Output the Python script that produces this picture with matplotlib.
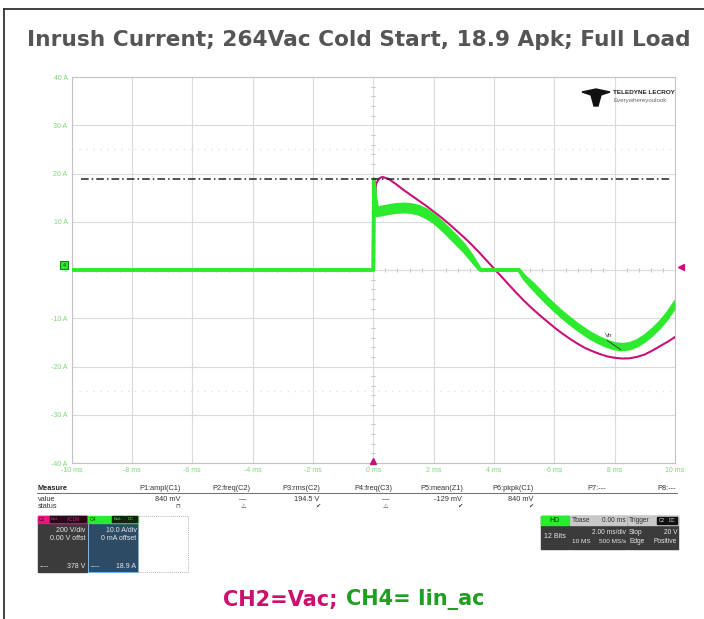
import numpy as np
import matplotlib.pyplot as plt
from matplotlib.patches import Rectangle, Polygon
from matplotlib.lines import Line2D

# scope capture values (time in ms, current in A, voltage in V)
t_iin = [-10, -0.02, 0.0, 0.02, 0.06, 0.13, 0.25, 0.5, 0.75, 1.0, 1.25, 1.5, 1.75,
         2.0, 2.25, 2.5, 2.75, 3.0, 3.25, 3.5, 3.56, 4.0, 4.5, 4.83,
         5.0, 5.25, 5.5, 5.75, 6.0, 6.25, 6.5, 6.75, 7.0, 7.25, 7.5, 7.75,
         8.0, 8.25, 8.5, 8.75, 9.0, 9.25, 9.5, 9.75, 10.0]
iin = [0, 0, 0, 18.8, 15.0, 12.0, 12.2, 12.5, 12.75, 12.85, 12.75, 12.4, 11.7,
       10.7, 9.3, 7.8, 6.2, 4.6, 2.6, 0.4, 0, 0, 0, 0,
       -1.5, -3.1, -4.7, -6.3, -7.8, -9.2, -10.5, -11.7, -12.8, -13.8, -14.6, -15.3,
       -15.8, -16.0, -15.8, -15.2, -14.2, -12.9, -11.4, -9.5, -7.2]
iin_ripple = [0, 0, 0, 0, 0.6, 1.4, 1.5, 1.5, 1.5, 1.5, 1.5, 1.5, 1.5,
              1.5, 1.4, 1.4, 1.4, 1.3, 1.0, 0.3, 0, 0, 0, 0,
              0.5, 0.9, 1.0, 1.0, 1.0, 1.0, 1.0, 1.0, 1.0, 1.0, 1.0, 1.0,
              1.0, 1.0, 1.0, 1.0, 1.0, 1.0, 1.0, 1.0, 1.0]

t_vac = [-10, 0, 0.03, 0.1, 0.2, 0.3, 0.5, 0.75, 1.0, 1.25, 1.5, 1.75, 2.0, 2.25,
         2.5, 2.75, 3.0, 3.25, 3.5, 3.75, 4.0, 4.25, 4.5, 4.75, 5.0, 5.25, 5.5,
         5.75, 6.0, 6.25, 6.5, 6.75, 7.0, 7.25, 7.5, 7.75, 8.0, 8.25, 8.5, 8.75,
         9.0, 9.25, 9.5, 9.75, 10.0]
vac = [0, 0, 280, 360, 380, 386, 378, 356, 332, 310, 288, 266, 242, 218,
       192, 164, 136, 106, 74, 40, 6, -28, -62, -96, -128, -158, -186,
       -212, -238, -262, -284, -304, -322, -336, -348, -358, -364, -367, -366, -360,
       -350, -334, -316, -298, -278]
v_per_div = 200
a_per_div = 10
ipk = 18.9

yticks = [40, 30, 20, 10, 0, -10, -20, -30, -40]
ytick_labels = ['40 A', '30 A', '20 A', '10 A', '0', '-10 A', '-20 A', '-30 A', '-40 A']
xticks = [-10, -8, -6, -4, -2, 0, 2, 4, 6, 8, 10]
xtick_labels = ['-10 ms', '-8 ms', '-6 ms', '-4 ms', '-2 ms', '0 ms', '2 ms', '4 ms', '6 ms', '8 ms', '10 ms']

meas_names = ['P1:ampl(C1)', 'P2:freq(C2)', 'P3:rms(C2)', 'P4:freq(C3)', 'P5:mean(Z1)',
              'P6:pkpk(C1)', 'P7:---', 'P8:---']
meas_values = ['840 mV', '\u2014', '194.5 V', '\u2014', '-129 mV', '840 mV', '', '']
meas_status = ['\u2293', '\u26a0', '\u2714', '\u26a0', '\u2714', '\u2714', '', '']

MAG = '#c8107a'
GRN = '#2eea2e'
W, H = 704, 619

fig = plt.figure(figsize=(W / 100, H / 100), dpi=100)
narrow = ['Liberation Sans Narrow', 'Liberation Sans', 'DejaVu Sans']


def ft(x, y, s, **kw):
    kw.setdefault('family', narrow)
    fig.text(x / W, 1 - y / H, s, **kw)


def box(x0, y0, x1, y1, **kw):
    fig.add_artist(Rectangle((x0 / W, 1 - y1 / H), (x1 - x0) / W, (y1 - y0) / H,
                             transform=fig.transFigure, **kw))


# outer frame
fig.add_artist(Line2D([4 / W, 4 / W], [0, 1 - 9 / H], color='#333333', lw=1.3))
fig.add_artist(Line2D([4 / W, 1], [1 - 9 / H, 1 - 9 / H], color='#333333', lw=1.3))

fig.text(0.509, 1 - 40 / H, 'Inrush Current; 264Vac Cold Start, 18.9 Apk; Full Load',
         ha='center', va='center', fontsize=15.6, fontweight='bold', color='#555555')

ax = fig.add_axes([71.7 / W, 1 - 463 / H, 603.3 / W, 386 / H])
ax.set_xlim(-10, 10)
ax.set_ylim(-40, 40)
ax.set_xticks(xticks)
ax.set_yticks(yticks)
ax.set_xticklabels(xtick_labels, fontsize=5, color='#78d878', family=narrow)
ax.set_yticklabels(ytick_labels, fontsize=5, color='#78d878', family=narrow)
ax.tick_params(length=0, pad=3)
ax.grid(True, color='#dadada', lw=0.8)
for s in ax.spines.values():
    s.set_color('#c4c4c4')
    s.set_linewidth(0.8)

# center cross with minor ticks
ax.axhline(0, color='#b8b8b8', lw=0.7, zorder=1)
ax.axvline(0, color='#b8b8b8', lw=0.7, zorder=1)
ax.plot(np.arange(-10, 10.01, 0.4), np.zeros(51), ls='none', marker='|', ms=3,
        color='#b0b0b0', mew=0.6, zorder=1)
ax.plot(np.zeros(41), np.arange(-40, 40.1, 2), ls='none', marker='_', ms=3,
        color='#b0b0b0', mew=0.6, zorder=1)
for yy in (25, -25):
    ax.axhline(yy, color='#e2e2e2', lw=1, ls=(0, (1, 4)), zorder=1)

# traces
vac_div = np.array(vac) / v_per_div * a_per_div
ax.plot(t_vac, vac_div, color=MAG, lw=1.5, zorder=3)
c = np.array(iin)
r = np.array(iin_ripple) / 2
ax.fill_between(t_iin, c - r, c + r, color=GRN, lw=0, zorder=4)
ax.plot(t_iin, c + r, color=GRN, lw=2.6, zorder=4, solid_joinstyle='round')
ax.plot(t_iin, c - r, color=GRN, lw=2.6, zorder=4, solid_joinstyle='round')

ax.axhline(ipk, xmin=0.015, xmax=0.995, color='#222222', lw=1.1,
           ls=(0, (5, 2, 1, 2)), zorder=5)

# markers
ax.plot([-10.25], [1.0], marker='s', ms=5.5, mfc=GRN, mec='#118811', mew=0.8,
        clip_on=False, zorder=6)
ax.text(-10.25, 1.0, '4', fontsize=3.5, ha='center', va='center', color='#114411',
        clip_on=False, zorder=7)
ax.plot([10.2], [0.6], marker='<', ms=4, color=MAG, clip_on=False, zorder=6)
ax.plot([0], [-39.6], marker='^', ms=4, color=MAG, clip_on=False, zorder=6)
ax.text(7.8, -13.6, 'Vlr', fontsize=4.5, color='#333333', ha='center', va='center',
        family=narrow, zorder=7)
ax.plot([7.75, 8.2], [-14.6, -16.5], color='#333333', lw=0.6, zorder=7)

# logo
emb = [(582, 92), (596, 89), (610, 92), (601, 95), (598, 106), (594, 106), (591, 95)]
fig.add_artist(Polygon([(x / W, 1 - y / H) for x, y in emb], closed=True,
                       transform=fig.transFigure, color='#111111'))
ft(613, 92.5, 'TELEDYNE LECROY', fontsize=4.6, fontweight='bold', color='#222222', va='center')
ft(614, 100.5, 'Everywhereyoulook', fontsize=4.4, color='#666666', va='center')

# measurement table
fig.add_artist(Line2D([37 / W, 677 / W], [1 - 493 / H] * 2, color='#555555', lw=0.6))
ft(37.5, 489, 'Measure', fontsize=5.3, fontweight='bold', color='#222222', va='center')
ft(37.5, 499.5, 'value', fontsize=5.3, color='#333333', va='center')
ft(37.5, 506.5, 'status', fontsize=5.3, color='#333333', va='center')
col_right = [181, 250, 320.5, 392.5, 463, 534, 606.5, 676]
for xr, nm, vv, st in zip(col_right, meas_names, meas_values, meas_status):
    ft(xr, 489, nm, fontsize=5.3, color='#333333', ha='right', va='center')
    if vv == '\u2014':
        ft(xr - 7, 499.5, vv, fontsize=5.3, color='#333333', ha='center', va='center')
    elif vv:
        ft(xr - 1, 499.5, vv, fontsize=5.3, color='#333333', ha='right', va='center')
    if st:
        ft(xr - 7 if st == '\u26a0' else xr - 3, 506.5, st, fontsize=4.5, color='#333333',
           ha='center', va='center', family=['DejaVu Sans'])

# channel boxes
box(37.5, 515.5, 86.5, 571.5, color='#3b3b3b')
box(37.5, 515.5, 86.5, 522.5, color='#e8157f')
box(50, 516, 60, 522, color='#2a0a18')
box(61, 516, 86, 522, color='#2a0a18')
ft(38.5, 519.3, 'C2', fontsize=3.4, color='#3b0020', va='center')
ft(55, 519.3, 'BwL', fontsize=3.1, color='#e8157f', va='center', ha='center')
ft(73.5, 519.3, 'AC1M', fontsize=3.3, color='#e8157f', va='center', ha='center')
ft(85.5, 531, '200 V/div', fontsize=5, color='#e8e8e8', ha='right', va='center')
ft(85.5, 538, '0.00 V offst', fontsize=5, color='#e8e8e8', ha='right', va='center')
ft(40, 567, '----', fontsize=5, color='#e8e8e8', va='center')
ft(85.5, 567, '378 V', fontsize=5, color='#e8e8e8', ha='right', va='center')

box(88, 515.5, 137.5, 571.5, facecolor='#2e4b66', edgecolor='#7ab8e8', lw=0.7)
box(88, 515.5, 137.5, 522.5, color=GRN)
box(112, 516, 124, 522, color='#0d260d')
box(125, 516, 137, 522, color='#0d260d')
ft(89.5, 519.3, 'C4', fontsize=3.6, color='#0d330d', va='center')
ft(118, 519.3, 'BwL', fontsize=3.2, color=GRN, va='center', ha='center')
ft(131, 519.3, 'DC', fontsize=3.2, color=GRN, va='center', ha='center')
ft(136.5, 531, '10.0 A/div', fontsize=5, color='#e8e8e8', ha='right', va='center')
ft(136.5, 538, '0 mA offset', fontsize=5, color='#e8e8e8', ha='right', va='center')
ft(91, 567, '----', fontsize=5, color='#e8e8e8', va='center')
ft(136.5, 567, '18.9 A', fontsize=5, color='#e8e8e8', ha='right', va='center')
box(138, 515.5, 188, 571.5, fill=False, edgecolor='#999999', lw=0.6, ls=(0, (1, 1.5)))

# timebase / trigger boxes
box(540.5, 516, 569, 548.5, color='#3b3b3b')
box(540.5, 516, 569, 525, color=GRN)
ft(554.7, 520.5, 'HD', fontsize=5, color='#0d330d', ha='center', va='center')
ft(554.7, 537, '12 Bits', fontsize=5, color='#e8e8e8', ha='center', va='center')

box(570, 516, 626.5, 548.5, color='#3b3b3b')
box(570, 516, 626.5, 525, color='#c8c8c8')
ft(572, 520.5, 'Tbase', fontsize=4.8, color='#333333', va='center')
ft(626, 520.5, '0.00 ms', fontsize=4.8, color='#333333', ha='right', va='center')
ft(626, 532.5, '2.00 ms/div', fontsize=4.8, color='#e8e8e8', ha='right', va='center')
ft(571.5, 541.5, '10 MS', fontsize=4.6, color='#e8e8e8', va='center')
ft(626, 541.5, '500 MS/s', fontsize=4.6, color='#e8e8e8', ha='right', va='center')

box(627.5, 516, 677.5, 548.5, color='#3b3b3b')
box(627.5, 516, 677.5, 525, color='#c8c8c8')
box(657, 517, 666.5, 524, color='#111111')
box(667.5, 517, 677, 524, color='#111111')
ft(629, 520.5, 'Trigger', fontsize=4.8, color='#333333', va='center')
ft(661.7, 520.5, 'C2', fontsize=3.4, color='#dddddd', ha='center', va='center')
ft(672.2, 520.5, 'DC', fontsize=3.4, color='#dddddd', ha='center', va='center')
ft(629, 532.5, 'Stop', fontsize=4.8, color='#e8e8e8', va='center')
ft(677, 532.5, '20 V', fontsize=4.8, color='#e8e8e8', ha='right', va='center')
ft(629, 541.5, 'Edge', fontsize=4.8, color='#e8e8e8', va='center')
ft(677, 541.5, 'Positive', fontsize=4.8, color='#e8e8e8', ha='right', va='center')

# channel caption
fig.text(338 / W, 1 - 600 / H, 'CH2=Vac;', ha='right', va='center', fontsize=15,
         fontweight='bold', color='#cc0f6a')
fig.text(346 / W, 1 - 600 / H, 'CH4= Iin_ac', ha='left', va='center', fontsize=15,
         fontweight='bold', color='#1f9e1f')

fig.savefig('out.png', dpi=100)
